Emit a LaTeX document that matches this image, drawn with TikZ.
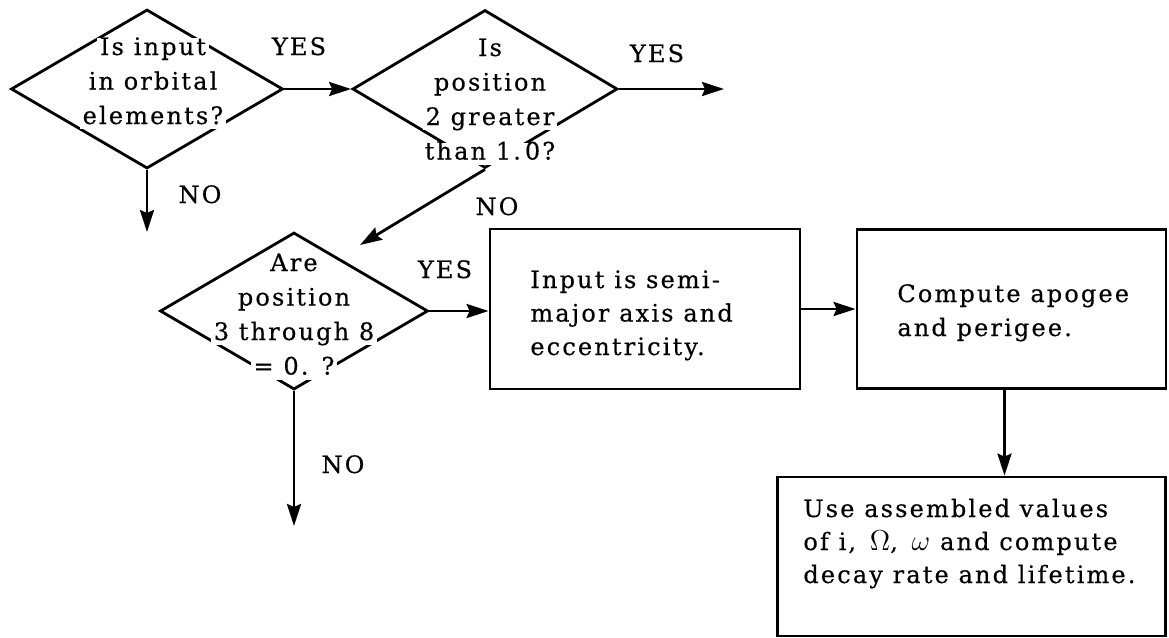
\documentclass[tikz,border=0pt]{standalone}
\usepackage{fontspec}
\setmainfont{DejaVu Serif}[LetterSpace=9,FakeBold=0.4]
\usetikzlibrary{arrows.meta,shapes.geometric}
% larger Greek symbols to sit well beside the wide serif text
\newcommand{\bigsym}[1]{{\fontsize{14.5}{17}\selectfont$#1$}}

\begin{document}
\begin{tikzpicture}[x=0.5pt,y=-0.5pt,
  every node/.style={font=\fontsize{12}{17}\selectfont},
  flow/.style={line width=1.4pt,-{Stealth[length=11pt,width=7pt,inset=1.5pt]}},
  decision/.style={diamond,draw,line width=1.4pt,inner sep=0pt},
  dtext/.style={fill=white,inner xsep=1.5pt,inner ysep=0pt,text height=8.5pt,text depth=2.5pt,anchor=base},
  process/.style={draw,line width=1.4pt,inner sep=0pt},
  btext/.style={inner sep=0pt,anchor=base west},
  tag/.style={inner sep=0pt,anchor=base}
]
\useasboundingbox (0,0) rectangle (1169,638);

% decision diamonds
\node[decision,minimum width=136pt,minimum height=79.5pt] (d1) at (147,89) {};
\node[decision,minimum width=132.5pt,minimum height=79pt] (d2) at (485,89) {};
\node[decision,minimum width=134pt,minimum height=78.5pt] (d3) at (294,311) {};

% process boxes
\node[process,minimum width=155pt,minimum height=80pt] (b1) at (645,309) {};
\node[process,minimum width=154.5pt,minimum height=79.5pt] (b2) at (1011.5,309) {};
\node[process,minimum width=194pt,minimum height=79.5pt] (b3) at (971.5,556.5) {};

% questions inside the diamonds (white ground breaks the edges)
\foreach \t [count=\i] in {Is input,in orbital,elements?}
  \node[dtext] (q1l\i) at (153,{55+34.5*(\i-1)}) {\t};
\foreach \t [count=\i] in {Is,position,2 greater,than 1.\,0?}
  \node[dtext] (q2l\i) at (490,{56+34.5*(\i-1)}) {\t};
\foreach \t [count=\i] in {Are,position,3 through 8,= 0. ?}
  \node[dtext] (q3l\i) at (294,{271+34.5*(\i-1)}) {\t};

% text of the process boxes
\foreach \t [count=\i] in {Input is semi-,major axis and,eccentricity.}
  \node[btext] (p1l\i) at (530,{288+33.5*(\i-1)}) {\t};
\foreach \t [count=\i] in {Compute apogee,and perigee.}
  \node[btext] (p2l\i) at (897,{302+34*(\i-1)}) {\t};
\foreach \t [count=\i] in {Use assembled values,{of i, \,\bigsym{\Omega}, \,\bigsym{\omega} and compute},decay rate and lifetime.}
  \node[btext] (p3l\i) at (803,{517+33*(\i-1)}) {\t};

% branch labels
\node[tag] (y1) at (299,55) {YES};
\node[tag] (y2) at (657,62) {YES};
\node[tag] (y3) at (445,278) {YES};
\node[tag] (n1) at (200,203) {NO};
\node[tag] (n2) at (497,215) {NO};
\node[tag] (n3) at (343,473) {NO};

% loose arrow ends
\coordinate (e1) at (724,89);
\coordinate (e2) at (147,232);
\coordinate (e3) at (360,245);
\coordinate (e4) at (294,526);

% connectors
\draw[flow] (d1.east) -- (d2.west);
\draw[flow] (d2.east) -- (e1);
\draw[flow] (d1.south) -- (e2);
\draw[flow] (d2.south) -- (e3);
\draw[flow] (d3.east) -- (d3.east -| b1.west);
\draw[flow] (d3.south) -- (e4);
\draw[flow] (b1.east) -- (b1.east -| b2.west);
\draw[flow] ([xshift=-3.5pt]b2.south) -- ([xshift=-3.5pt]b2.south |- b3.north);
\end{tikzpicture}
\end{document}
